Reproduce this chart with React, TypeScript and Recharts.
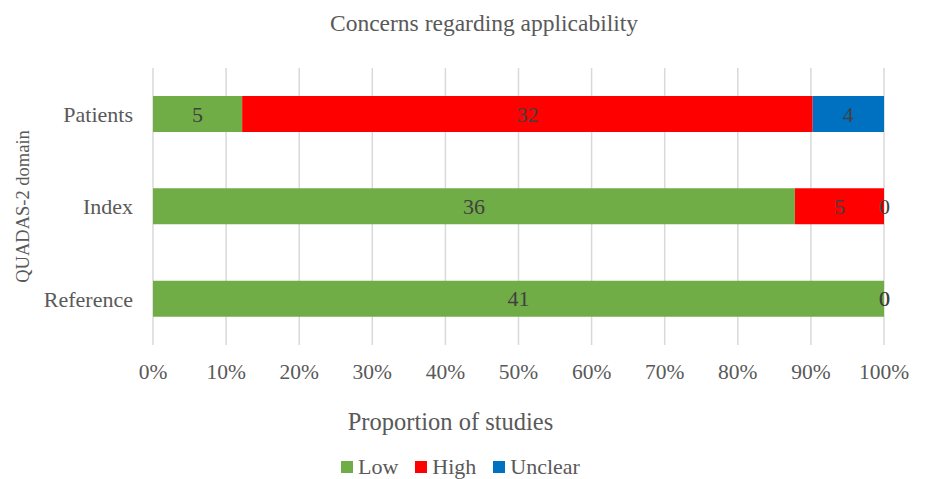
import { BarChart, Bar, XAxis, YAxis, CartesianGrid, LabelList, Cell } from 'recharts';

const domains = ['Patients', 'Index', 'Reference'];
const low = [5, 36, 41];
const high = [32, 5, 0];
const unclear = [4, 0, 0];
const ticks = [0, 0.1, 0.2, 0.3, 0.4, 0.5, 0.6, 0.7, 0.8, 0.9, 1];

const data = domains.map((d, i) => ({
  domain: d,
  Low: low[i],
  High: high[i],
  Unclear: unclear[i],
}));

const font = 'Liberation Serif';
const grey = '#595959';

// zero segments still get their label at the stack edge, like the source chart
const renderLabel = (props: any) => {
  const { x, y, width, height, value } = props;
  if (value === undefined || value === null) return null;
  return (
    <text
      x={Number(x) + Number(width) / 2}
      y={Number(y) + Number(height) / 2}
      textAnchor="middle"
      dominantBaseline="central"
      fill="#404040"
      fontSize={22}
      fontFamily={font}
    >
      {value}
    </text>
  );
};

function LegendItem({ color, text }: { color: string; text: string }) {
  return (
    <span style={{ display: 'inline-flex', alignItems: 'center', marginRight: 17 }}>
      <span style={{ width: 12, height: 12, background: color, display: 'inline-block', marginRight: 5 }} />
      <span>{text}</span>
    </span>
  );
}

export default function App() {
  return (
    <div style={{ position: 'absolute', left: 0, top: 0, width: 925, height: 479, background: '#fff', fontFamily: font, overflow: 'hidden' }}>
      <div style={{ position: 'absolute', top: 10, left: 330, fontSize: 23.5, color: grey, whiteSpace: 'nowrap' }}>
        Concerns regarding applicability
      </div>
      <BarChart
        width={925}
        height={479}
        data={data}
        layout="vertical"
        stackOffset="expand"
        barSize={36}
        margin={{ top: 68, right: 41, bottom: 0, left: 0 }}
      >
        <CartesianGrid horizontal={false} stroke="#d9d9d9" strokeWidth={1.5} />
        <XAxis
          type="number"
          domain={[0, 1]}
          ticks={ticks}
          tickFormatter={(v: number) => `${Math.round(v * 100)}%`}
          axisLine={false}
          tickLine={false}
          tickSize={0}
          tickMargin={19}
          height={134}
          tick={{ fill: grey, fontSize: 21.5, fontFamily: font }}
          interval={0}
          label={{ value: 'Proportion of studies', position: 'insideTop', offset: 68, dx: -68, fill: grey, fontSize: 24.5, fontFamily: font }}
        />
        <YAxis
          type="category"
          dataKey="domain"
          width={153}
          axisLine={false}
          tickLine={false}
          tickSize={0}
          tickMargin={20}
          tick={{ fill: grey, fontSize: 22, fontFamily: font }}
          label={{ value: 'QUADAS-2 domain', angle: -90, position: 'insideLeft', offset: 22, fill: grey, fontSize: 18.5, fontFamily: font, style: { textAnchor: 'middle' } }}
        />
        <Bar dataKey="Low" stackId="a" fill="#70AD47" isAnimationActive={false}>
          <LabelList dataKey="Low" content={renderLabel} />
        </Bar>
        <Bar dataKey="High" stackId="a" fill="#FF0000" isAnimationActive={false} minPointSize={(v: any, i: number) => (high[i] === 0 ? 1 : 0)}>
          {high.map((v, i) => (
            <Cell key={i} fill={v === 0 ? 'transparent' : '#FF0000'} />
          ))}
          <LabelList dataKey="High" content={renderLabel} />
        </Bar>
        <Bar dataKey="Unclear" stackId="a" fill="#0070C0" isAnimationActive={false} minPointSize={(v: any, i: number) => (unclear[i] === 0 ? 1 : 0)}>
          {unclear.map((v, i) => (
            <Cell key={i} fill={v === 0 ? 'transparent' : '#0070C0'} />
          ))}
          <LabelList dataKey="Unclear" content={renderLabel} />
        </Bar>
      </BarChart>
      <div style={{ position: 'absolute', top: 456, left: 341, height: 22, lineHeight: '22px', fontSize: 22, color: grey, whiteSpace: 'nowrap', display: 'flex', alignItems: 'center' }}>
        <LegendItem color="#70AD47" text="Low" />
        <LegendItem color="#FF0000" text="High" />
        <LegendItem color="#0070C0" text="Unclear" />
      </div>
    </div>
  );
}
